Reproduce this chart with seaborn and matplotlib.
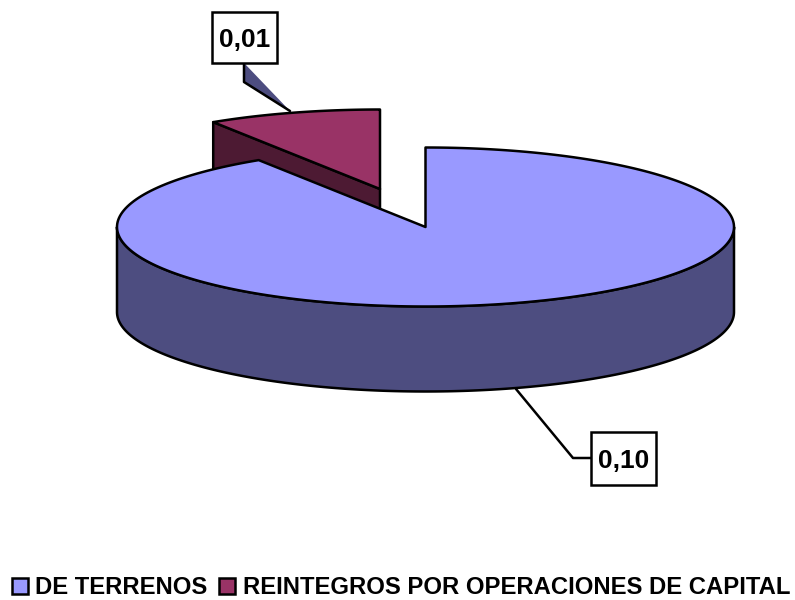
import numpy as np
import matplotlib
matplotlib.use("Agg")
import matplotlib.pyplot as plt
from matplotlib.patches import Rectangle, Patch
import seaborn as sns

categories = ["DE TERRENOS", "REINTEGROS POR OPERACIONES DE CAPITAL"]
values = [0.10, 0.01]
top_colors = ["#9999FF", "#993366"]
side_colors = ["#4D4D80", "#4D1A33"]

sns.set_theme(style="white")
plt.rcParams["font.family"] = ["Liberation Sans", "DejaVu Sans"]
palette = sns.color_palette(top_colors)
side_palette = sns.color_palette(side_colors)

fig = plt.figure(figsize=(7.95, 6.0), dpi=100)
ax = fig.add_axes([0, 0, 1, 1])
ax.set_xlim(0, 795)
ax.set_ylim(600, 0)
ax.axis("off")

CX, CY, RX, RY, DEPTH = 425.5, 227.0, 308.5, 79.5, 85.0
OFFSET = (-45.5, -38.0)
LW = 1.8


def arc(t0, t1, dx=0.0, dy=0.0):
    t = np.radians(np.linspace(t0, t1, 240))
    return CX + dx + RX * np.sin(t), CY + dy - RY * np.cos(t)


def poly(x, y, color, z, lw=LW):
    ax.fill(x, y, facecolor=color, edgecolor="black", linewidth=lw,
            joinstyle="round", zorder=z)


total = sum(values)
split = 360.0 * values[0] / total

# exploded small slice: cut face, then top
ox, oy = OFFSET
ex, ey = arc(split, split, ox, oy)
sx = [CX + ox, ex[0], ex[0], CX + ox]
sy = [CY + oy, ey[0], ey[0] + DEPTH, CY + oy + DEPTH]
poly(sx, sy, side_palette[1], 2)
ax_, ay_ = arc(split, 360.0, ox, oy)
poly(np.r_[CX + ox, ax_], np.r_[CY + oy, ay_], palette[1], 3)

# large slice: outer wall, then top
tx, ty = arc(90.0, 270.0)
bx, by = arc(270.0, 90.0, 0.0, DEPTH)
poly(np.r_[tx, bx], np.r_[ty, by], side_palette[0], 4)
ax_, ay_ = arc(0.0, split)
poly(np.r_[CX, ax_], np.r_[CY, ay_], palette[0], 5)


def fmt(v):
    return f"{v:.2f}".replace(".", ",")


# leader of the large slice
ax.plot([516, 573, 591], [389, 458, 458], color="black", lw=LW, zorder=6)
# leader of the small slice (thin wedge)
ax.fill([245, 244, 290], [64, 82, 111], facecolor=side_palette[0], edgecolor="none", zorder=1)
ax.plot([244, 244, 290], [64, 82, 111], color="black", lw=LW, zorder=1)

boxes = [(591, 432, 65, 53), (212, 12, 65, 51)]
for (bx0, by0, w, h), v in zip(boxes, values):
    ax.add_patch(Rectangle((bx0, by0), w, h, facecolor="white", edgecolor="black",
                           linewidth=LW, zorder=7))
    ax.text(bx0 + w / 2, by0 + h / 2, fmt(v), ha="center", va="center_baseline",
            fontsize=19, fontweight="bold", color="black", zorder=8)

handles = [Patch(facecolor=c, edgecolor="black", linewidth=LW) for c in palette]
ax.legend(handles, categories, loc="lower left", bbox_to_anchor=(12 / 795, 0.5 / 600),
          ncols=2, frameon=False, borderpad=0, borderaxespad=0,
          handlelength=0.67, handleheight=0.63, handletextpad=0.3, columnspacing=0.5,
          prop={"family": "Liberation Sans", "weight": "bold", "size": 17.2},
          labelcolor="black")

fig.savefig("out.png", dpi=100, facecolor="white")
